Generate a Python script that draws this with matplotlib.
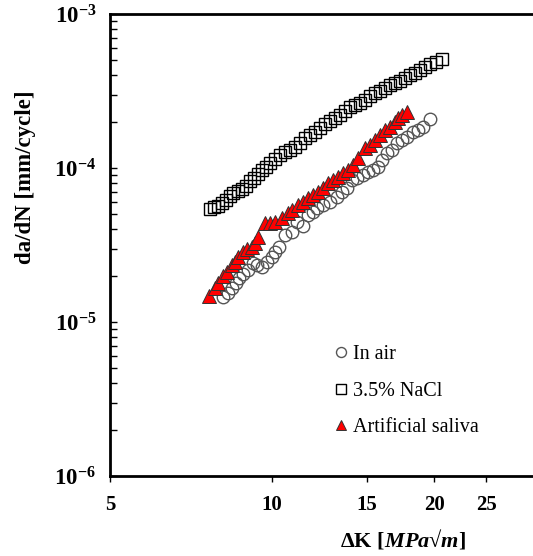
import numpy as np
import matplotlib
matplotlib.use("Agg")
import matplotlib.pyplot as plt
from matplotlib.ticker import FixedLocator, NullLocator, LogLocator, FuncFormatter

plt.rcParams['font.family'] = ['Liberation Serif', 'DejaVu Serif']
plt.rcParams['mathtext.fontset'] = 'custom'
plt.rcParams['mathtext.rm'] = 'Liberation Serif:bold'
plt.rcParams['mathtext.bf'] = 'Liberation Serif:bold'
plt.rcParams['mathtext.it'] = 'Liberation Serif:bold:italic'

# In air
air_dk = [8.11, 8.29, 8.43, 8.58, 8.69, 8.83, 9.03, 9.22, 9.38, 9.58, 9.79, 10.00,
          10.13, 10.31, 10.57, 10.90, 11.13, 11.42, 11.67, 11.92, 12.13, 12.44,
          12.82, 13.21, 13.50, 13.79, 14.09, 14.39, 14.77, 15.08, 15.41, 15.75,
          16.02, 16.36, 16.71, 17.08, 17.45, 17.83, 18.29, 18.69, 19.09, 19.67]
air_dadn = [1.45e-5, 1.54e-5, 1.66e-5, 1.79e-5, 1.93e-5, 2.05e-5, 2.18e-5, 2.42e-5,
            2.35e-5, 2.28e-5, 2.45e-5, 2.64e-5, 2.85e-5, 3.07e-5, 3.67e-5, 3.84e-5,
            4.46e-5, 4.20e-5, 4.95e-5, 5.18e-5, 5.50e-5, 5.75e-5, 6.01e-5, 6.48e-5,
            6.99e-5, 7.42e-5, 8.36e-5, 8.61e-5, 9.00e-5, 9.42e-5, 9.71e-5, 1.015e-4,
            1.13e-4, 1.25e-4, 1.31e-4, 1.45e-4, 1.52e-4, 1.59e-4, 1.71e-4, 1.77e-4,
            1.85e-4, 2.08e-4]

# 3.5% NaCl
nacl_dk = [7.67, 7.80, 7.94, 8.07, 8.21, 8.36, 8.47, 8.65, 8.80, 8.95, 9.10, 9.26,
           9.42, 9.58, 9.75, 9.92, 10.13, 10.35, 10.57, 10.80, 11.04, 11.28, 11.52,
           11.77, 12.03, 12.29, 12.55, 12.82, 13.10, 13.38, 13.67, 13.97, 14.27,
           14.58, 14.89, 15.21, 15.55, 15.88, 16.22, 16.57, 16.93, 17.30, 17.67,
           18.06, 18.45, 18.85, 19.26, 19.67, 20.18, 20.71]
nacl_dadn = [5.42e-5, 5.58e-5, 5.66e-5, 5.93e-5, 6.20e-5, 6.58e-5, 6.88e-5, 7.09e-5,
             7.31e-5, 7.64e-5, 8.23e-5, 8.61e-5, 9.14e-5, 9.71e-5, 1.015e-4, 1.077e-4,
             1.144e-4, 1.215e-4, 1.271e-4, 1.309e-4, 1.369e-4, 1.453e-4, 1.566e-4,
             1.637e-4, 1.713e-4, 1.818e-4, 1.931e-4, 2.020e-4, 2.112e-4, 2.209e-4,
             2.345e-4, 2.490e-4, 2.566e-4, 2.643e-4, 2.764e-4, 2.935e-4, 3.069e-4,
             3.162e-4, 3.307e-4, 3.459e-4, 3.564e-4, 3.672e-4, 3.841e-4, 4.017e-4,
             4.139e-4, 4.328e-4, 4.526e-4, 4.734e-4, 4.879e-4, 5.102e-4]

# Artificial saliva
sal_dk = [7.64, 7.84, 7.94, 8.11, 8.25, 8.43, 8.54, 8.65, 8.83, 8.99, 9.18, 9.30,
          9.42, 9.71, 9.92, 10.13, 10.44, 10.71, 10.90, 11.18, 11.42, 11.67, 11.92,
          12.18, 12.44, 12.71, 12.99, 13.27, 13.55, 13.85, 14.15, 14.45, 14.89,
          15.21, 15.55, 15.88, 16.22, 16.57, 16.93, 17.15, 17.45, 17.83]
sal_dadn = [1.48e-5, 1.66e-5, 1.79e-5, 1.99e-5, 2.11e-5, 2.35e-5, 2.45e-5, 2.64e-5,
            2.85e-5, 2.98e-5, 3.07e-5, 3.26e-5, 3.56e-5, 4.39e-5, 4.39e-5, 4.46e-5,
            4.74e-5, 5.10e-5, 5.34e-5, 5.75e-5, 6.01e-5, 6.39e-5, 6.68e-5, 6.99e-5,
            7.42e-5, 7.99e-5, 8.36e-5, 8.74e-5, 9.28e-5, 9.71e-5, 1.046e-4, 1.161e-4,
            1.349e-4, 1.411e-4, 1.52e-4, 1.637e-4, 1.765e-4, 1.846e-4, 1.99e-4,
            2.11e-4, 2.21e-4, 2.31e-4]

x_ticks = [5, 10, 15, 20, 25]

fig = plt.figure(figsize=(5.33, 5.56), dpi=100)
ax = fig.add_axes([110 / 533, 80 / 556, 423 / 533, 462 / 556])

ax.plot(air_dk, air_dadn, 'o', ms=9, mfc='none', mec='#555555', mew=1.0, label='In air')
ax.plot(nacl_dk, nacl_dadn, 's', ms=8.5, mfc='none', mec='black', mew=1.0, label='3.5% NaCl')
ax.plot(sal_dk, sal_dadn, '^', ms=9.5, mfc='#ff0000', mec='#333333', mew=0.7,
        label='Artificial saliva')

ax.set_xscale('log')
ax.set_yscale('log')
ax.set_xlim(5, 30.5)
ax.set_ylim(1e-6, 1e-3)

ax.xaxis.set_major_locator(FixedLocator(x_ticks))
ax.xaxis.set_minor_locator(NullLocator())
ax.xaxis.set_major_formatter(FuncFormatter(lambda v, p: '%d' % v))
ax.yaxis.set_major_locator(LogLocator(base=10, numticks=10))
ax.yaxis.set_minor_locator(LogLocator(base=10, subs=np.arange(2, 10), numticks=10))
ax.yaxis.set_major_formatter(FuncFormatter(lambda v, p: r'$10^{%d}$' % round(np.log10(v))))

ax.tick_params(axis='x', which='major', direction='out', length=4, width=1,
               labelsize=15, pad=10)
for t in ax.get_xticklabels():
    t.set_fontweight('bold')
ax.tick_params(axis='y', which='both', direction='in', length=5, width=1,
               labelsize=16.5, pad=10)

for s in ['left', 'bottom', 'top']:
    ax.spines[s].set_linewidth(2)
ax.spines['right'].set_visible(False)

ax.set_ylabel('da/dN [mm/cycle]', fontsize=16.5, fontweight='bold')
ax.yaxis.set_label_coords(-0.175, 0.647)
ax.set_xlabel('ΔK [$MPa$√$m$]', fontsize=16, fontweight='bold')
ax.xaxis.set_label_coords(0.693, -0.112)

ax.legend(loc='upper left', bbox_to_anchor=(0.527, 0.283), frameon=False,
          fontsize=14.5, markerscale=0.8, handlelength=0.8, handletextpad=0.2,
          labelspacing=0.85, borderpad=0, borderaxespad=0)

fig.savefig('out.png', dpi=100)
